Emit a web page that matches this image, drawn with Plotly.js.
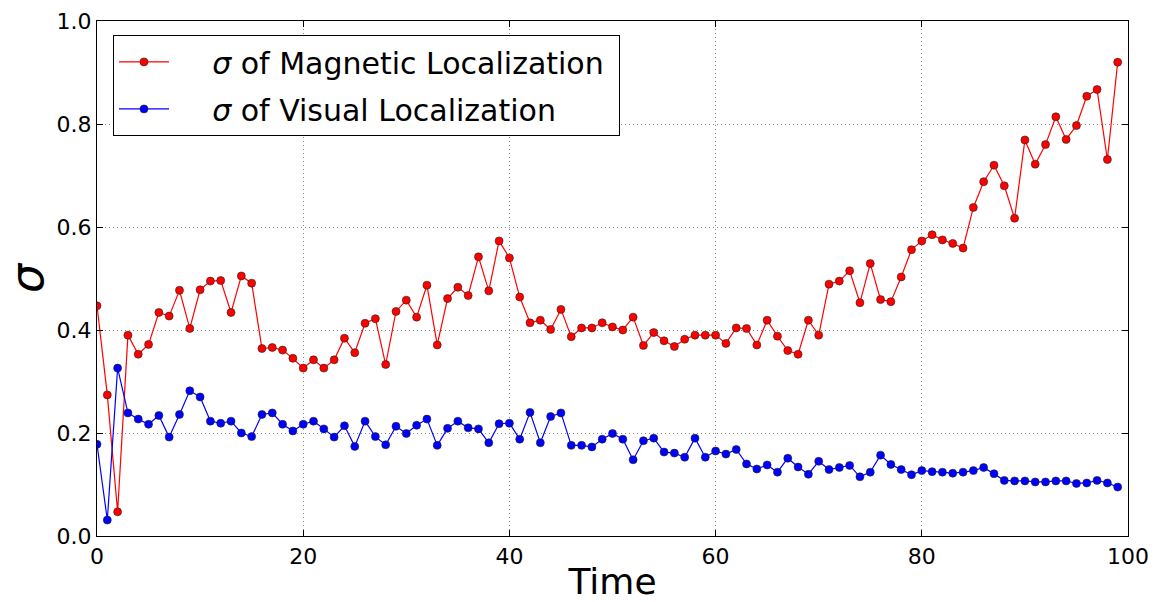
<!DOCTYPE html>
<html>
<head>
<meta charset="utf-8">
<script src="https://cdn.plot.ly/plotly-3.0.1.min.js"></script>
<style>html,body{margin:0;padding:0;background:#fff;}#chart{width:1160px;height:602px;}</style>
</head>
<body>
<div id="chart"></div>
<script>
const timeSteps = Array.from({length: 100}, (_, i) => i);
const magneticSigma = [
0.447,0.274,0.047,0.390,0.353,0.372,0.434,0.427,0.477,0.403,
0.478,0.495,0.496,0.434,0.505,0.491,0.364,0.366,0.361,0.345,
0.326,0.342,0.326,0.342,0.384,0.356,0.413,0.422,0.333,0.436,
0.458,0.425,0.487,0.371,0.461,0.483,0.467,0.542,0.476,0.573,
0.540,0.464,0.414,0.419,0.401,0.440,0.387,0.404,0.404,0.414,
0.406,0.400,0.425,0.370,0.395,0.379,0.368,0.382,0.390,0.390,
0.390,0.374,0.404,0.403,0.371,0.419,0.388,0.360,0.353,0.419,
0.390,0.489,0.495,0.515,0.453,0.529,0.459,0.455,0.503,0.556,
0.573,0.585,0.575,0.568,0.559,0.638,0.688,0.720,0.680,0.617,
0.769,0.722,0.760,0.814,0.770,0.797,0.854,0.867,0.731,0.920
];
const visualSigma = [
0.178,0.031,0.326,0.239,0.227,0.217,0.234,0.192,0.236,0.282,
0.270,0.223,0.219,0.223,0.200,0.193,0.236,0.239,0.217,0.204,
0.217,0.223,0.208,0.192,0.214,0.174,0.223,0.193,0.177,0.213,
0.199,0.215,0.227,0.176,0.209,0.223,0.210,0.208,0.181,0.218,
0.219,0.188,0.240,0.181,0.232,0.239,0.176,0.176,0.173,0.188,
0.199,0.188,0.148,0.185,0.190,0.163,0.161,0.153,0.190,0.153,
0.165,0.159,0.168,0.140,0.130,0.138,0.124,0.151,0.134,0.120,
0.145,0.129,0.133,0.137,0.115,0.124,0.157,0.139,0.129,0.119,
0.127,0.125,0.124,0.122,0.124,0.127,0.133,0.121,0.108,0.107,
0.107,0.105,0.105,0.107,0.107,0.102,0.103,0.108,0.103,0.095
];
const seriesNames = ['<i>σ</i> of Magnetic Localization', '<i>σ</i> of Visual Localization'];
const xTicks = [0, 20, 40, 60, 80, 100];
const yTicks = [0.0, 0.2, 0.4, 0.6, 0.8, 1.0];

const font = 'DejaVu Sans, sans-serif';
const pad = '\u00a0\u00a0\u00a0\u00a0';
const traces = [
  {x: timeSteps, y: magneticSigma, name: pad + seriesNames[0] + '\u00a0', legendgroup: 'm', type: 'scatter', mode: 'lines+markers',
   line: {color: '#ff0000', width: 1.2},
   marker: {color: '#ff0000', size: 8, line: {color: '#222', width: 0.6}}},
  {x: timeSteps, y: visualSigma, name: pad + seriesNames[1], legendgroup: 'v', type: 'scatter', mode: 'lines+markers',
   line: {color: '#0000ff', width: 1.2},
   marker: {color: '#0000ff', size: 8, line: {color: '#222', width: 0.6}}}
];
const axisCommon = {
  showline: true, linecolor: '#000', linewidth: 1.2, mirror: 'ticks',
  ticks: 'inside', ticklen: 6, tickcolor: '#000',
  showgrid: true, gridcolor: '#8a8a8a', griddash: '1px,3px', gridwidth: 1,
  zeroline: false, tickfont: {family: font, size: 22, color: '#000'}
};
const layout = {
  width: 1160, height: 602,
  margin: {l: 97, r: 32, t: 21, b: 66},
  paper_bgcolor: '#fff', plot_bgcolor: '#fff',
  font: {family: font, color: '#000'},
  xaxis: Object.assign({}, axisCommon, {
    range: [0, 100], tickvals: xTicks, ticktext: xTicks.map(String),
    title: {text: 'Time', font: {family: font, size: 36}, standoff: 6}
  }),
  yaxis: Object.assign({}, axisCommon, {
    range: [0, 1], tickvals: yTicks, ticktext: yTicks.map(v => v.toFixed(1)),
    title: {text: '<i>σ</i>', font: {family: font, size: 46}, standoff: 12}
  }),
  legend: {
    x: 0.0155, y: 0.973, xanchor: 'left', yanchor: 'top',
    bordercolor: '#000', borderwidth: 1, bgcolor: '#fff',
    font: {family: font, size: 30, color: '#000'},
    itemwidth: 50, tracegroupgap: 5
  },
  showlegend: true
};
Plotly.newPlot('chart', traces, layout, {staticPlot: true, displayModeBar: false});
</script>
</body>
</html>
